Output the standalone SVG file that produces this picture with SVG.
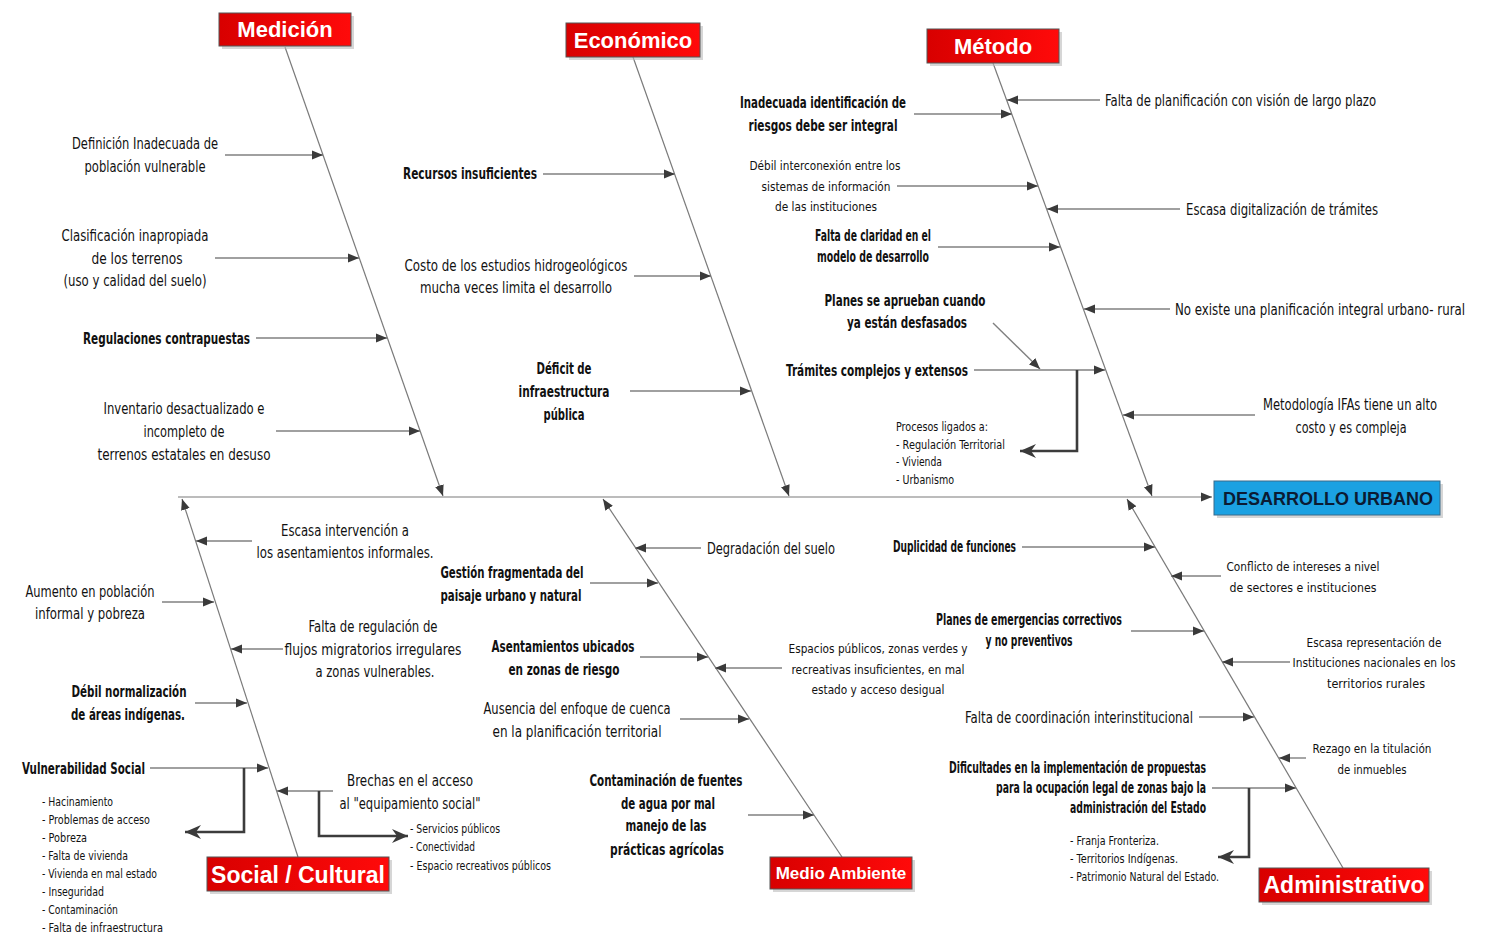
<svg xmlns="http://www.w3.org/2000/svg" width="1486" height="937" viewBox="0 0 1486 937">
<style>
.t{font-family:'DejaVu Sans Condensed','DejaVu Sans','Liberation Sans',sans-serif;font-stretch:condensed;font-size:16px;fill:#111}
.b{font-weight:bold}
.s{font-size:13px}
.m{text-anchor:middle}
.e{text-anchor:end}
.cat{font-family:'Liberation Sans',Arial,sans-serif;font-weight:bold;fill:#fff;text-anchor:middle}
.box{fill:url(#red);stroke:#555;stroke-width:1}
.sh{fill:#bbb;opacity:0.6}
.bone{stroke:#7a7a7a;stroke-width:1.2;fill:none}
.br{stroke:#808080;stroke-width:1.4;fill:none}
.el{stroke:#3c3c3c;stroke-width:2.6;fill:none}
</style>
<defs>
<linearGradient id="red" x1="0" y1="0" x2="1" y2="0"><stop offset="0" stop-color="#d80000"/><stop offset="1" stop-color="#ff0a0a"/></linearGradient>
<marker id="a" markerUnits="userSpaceOnUse" markerWidth="12" markerHeight="10" refX="11" refY="5" orient="auto"><path d="M0,0.5 L11,5 L0,9.5 z" fill="#3a3a3a"/></marker>
<marker id="A" markerUnits="userSpaceOnUse" markerWidth="18" markerHeight="14" refX="16" refY="7" orient="auto"><path d="M0,0 L16,7 L0,14 L5,7 z" fill="#3a3a3a"/></marker>
</defs>
<rect width="1486" height="937" fill="#fff"/>

<g id="connectors">
<line class="bone" x1="178" y1="497" x2="1212" y2="497" marker-end="url(#a)"/>
<line class="bone" x1="285" y1="47" x2="443" y2="496" marker-end="url(#a)"/>
<line class="bone" x1="633" y1="57" x2="789" y2="496" marker-end="url(#a)"/>
<line class="bone" x1="993" y1="63" x2="1152" y2="496" marker-end="url(#a)"/>
<line class="bone" x1="298" y1="857" x2="182" y2="499" marker-end="url(#a)"/>
<line class="bone" x1="842" y1="857" x2="603" y2="499" marker-end="url(#a)"/>
<line class="bone" x1="1343" y1="868" x2="1127" y2="499" marker-end="url(#a)"/>
<line class="br" x1="225" y1="155" x2="323" y2="155" marker-end="url(#a)"/>
<line class="br" x1="215" y1="258" x2="359" y2="258" marker-end="url(#a)"/>
<line class="br" x1="256" y1="338" x2="387" y2="338" marker-end="url(#a)"/>
<line class="br" x1="276" y1="431" x2="420" y2="431" marker-end="url(#a)"/>
<line class="br" x1="543" y1="174" x2="675" y2="174" marker-end="url(#a)"/>
<line class="br" x1="634" y1="276" x2="711" y2="276" marker-end="url(#a)"/>
<line class="br" x1="630" y1="391" x2="751" y2="391" marker-end="url(#a)"/>
<line class="br" x1="1100" y1="100" x2="1007" y2="100" marker-end="url(#a)"/>
<line class="br" x1="914" y1="114" x2="1012" y2="114" marker-end="url(#a)"/>
<line class="br" x1="897" y1="186" x2="1038" y2="186" marker-end="url(#a)"/>
<line class="br" x1="1180" y1="209" x2="1047" y2="209" marker-end="url(#a)"/>
<line class="br" x1="938" y1="247" x2="1060" y2="247" marker-end="url(#a)"/>
<line class="br" x1="1170" y1="309" x2="1084" y2="309" marker-end="url(#a)"/>
<line class="br" x1="993" y1="323" x2="1040" y2="369" marker-end="url(#a)"/>
<line class="br" x1="974" y1="370" x2="1105" y2="370" marker-end="url(#a)"/>
<line class="br" x1="1255" y1="415" x2="1123" y2="415" marker-end="url(#a)"/>
<path class="el" d="M1077,370 V451 H1020" marker-end="url(#A)"/>
<line class="br" x1="252" y1="541" x2="196" y2="541" marker-end="url(#a)"/>
<line class="br" x1="162" y1="602" x2="214" y2="602" marker-end="url(#a)"/>
<line class="br" x1="283" y1="649" x2="231" y2="649" marker-end="url(#a)"/>
<line class="br" x1="195" y1="703" x2="247" y2="703" marker-end="url(#a)"/>
<line class="br" x1="150" y1="768" x2="268" y2="768" marker-end="url(#a)"/>
<line class="br" x1="333" y1="791" x2="277" y2="791" marker-end="url(#a)"/>
<path class="el" d="M244,768 V832 H185" marker-end="url(#A)"/>
<path class="el" d="M319,791 V836 H408" marker-end="url(#A)"/>
<line class="br" x1="701" y1="548" x2="635" y2="548" marker-end="url(#a)"/>
<line class="br" x1="590" y1="583" x2="658" y2="583" marker-end="url(#a)"/>
<line class="br" x1="640" y1="657" x2="708" y2="657" marker-end="url(#a)"/>
<line class="br" x1="782" y1="668" x2="715" y2="668" marker-end="url(#a)"/>
<line class="br" x1="680" y1="719" x2="749" y2="719" marker-end="url(#a)"/>
<line class="br" x1="748" y1="815" x2="814" y2="815" marker-end="url(#a)"/>
<line class="br" x1="1022" y1="547" x2="1155" y2="547" marker-end="url(#a)"/>
<line class="br" x1="1221" y1="576" x2="1171" y2="576" marker-end="url(#a)"/>
<line class="br" x1="1131" y1="631" x2="1204" y2="631" marker-end="url(#a)"/>
<line class="br" x1="1290" y1="662" x2="1222" y2="662" marker-end="url(#a)"/>
<line class="br" x1="1199" y1="717" x2="1254" y2="717" marker-end="url(#a)"/>
<line class="br" x1="1306" y1="758" x2="1279" y2="758" marker-end="url(#a)"/>
<line class="br" x1="1212" y1="788" x2="1296" y2="788" marker-end="url(#a)"/>
<path class="el" d="M1249,788 V857 H1218" marker-end="url(#A)"/>
</g>

<g id="medicion"><rect class="sh" x="222" y="16" width="132" height="33"/><rect class="box" x="219" y="13" width="132" height="33"/><text class="cat" x="285" y="37" font-size="22">Medición</text></g>
<g id="economico"><rect class="sh" x="569" y="26" width="134" height="34"/><rect class="box" x="566" y="23" width="134" height="34"/><text class="cat" x="633" y="48" font-size="22">Económico</text></g>
<g id="metodo"><rect class="sh" x="930" y="32" width="132" height="34"/><rect class="box" x="927" y="29" width="132" height="34"/><text class="cat" x="993" y="54" font-size="22">Método</text></g>
<g id="social"><rect class="sh" x="210" y="860" width="182" height="34"/><rect class="box" x="207" y="857" width="182" height="34"/><text class="cat" x="298" y="883" font-size="23">Social / Cultural</text></g>
<g id="medioambiente"><rect class="sh" x="773" y="860" width="142" height="32"/><rect class="box" x="770" y="857" width="142" height="32"/><text class="cat" x="841" y="879" font-size="17">Medio Ambiente</text></g>
<g id="administrativo"><rect class="sh" x="1262" y="871" width="170" height="34"/><rect class="box" x="1259" y="868" width="170" height="34"/><text class="cat" x="1344" y="893" font-size="23">Administrativo</text></g>
<g id="desarrollo"><rect x="1217" y="484" width="226" height="34" fill="#bbb" opacity="0.6"/><rect x="1214" y="481" width="226" height="34" fill="#1ba1e2" stroke="#3a6a8a" stroke-width="1"/><text x="1328" y="505" font-family="'Liberation Sans',Arial,sans-serif" font-weight="bold" font-size="18" fill="#0b1b33" text-anchor="middle">DESARROLLO URBANO</text></g>

<g id="med-1"><text class="t m" x="145" y="149" textLength="146" lengthAdjust="spacingAndGlyphs">Definición Inadecuada de</text><text class="t m" x="145" y="172" textLength="121" lengthAdjust="spacingAndGlyphs">población vulnerable</text></g>
<g id="med-2"><text class="t m" x="135" y="241" textLength="147" lengthAdjust="spacingAndGlyphs">Clasificación inapropiada</text><text class="t m" x="137" y="264" textLength="91" lengthAdjust="spacingAndGlyphs">de los terrenos</text><text class="t m" x="135" y="286" textLength="143" lengthAdjust="spacingAndGlyphs">(uso y calidad del suelo)</text></g>
<g id="med-3"><text class="t b e" x="250" y="344" textLength="167" lengthAdjust="spacingAndGlyphs">Regulaciones contrapuestas</text></g>
<g id="med-4"><text class="t m" x="184" y="414" textLength="161" lengthAdjust="spacingAndGlyphs">Inventario desactualizado e</text><text class="t m" x="184" y="437" textLength="81" lengthAdjust="spacingAndGlyphs">incompleto de</text><text class="t m" x="184" y="460" textLength="173" lengthAdjust="spacingAndGlyphs">terrenos estatales en desuso</text></g>

<g id="eco-1"><text class="t b e" x="537" y="179" textLength="134" lengthAdjust="spacingAndGlyphs">Recursos insuficientes</text></g>
<g id="eco-2"><text class="t m" x="516" y="271" textLength="223" lengthAdjust="spacingAndGlyphs">Costo de los estudios hidrogeológicos</text><text class="t m" x="516" y="293" textLength="192" lengthAdjust="spacingAndGlyphs">mucha veces limita el desarrollo</text></g>
<g id="eco-3"><text class="t b m" x="564" y="374" textLength="55" lengthAdjust="spacingAndGlyphs">Déficit de</text><text class="t b m" x="564" y="397" textLength="91" lengthAdjust="spacingAndGlyphs">infraestructura</text><text class="t b m" x="564" y="420" textLength="41" lengthAdjust="spacingAndGlyphs">pública</text></g>

<g id="met-1"><text class="t" x="1105" y="106" textLength="271" lengthAdjust="spacingAndGlyphs">Falta de planificación con visión de largo plazo</text></g>
<g id="met-2"><text class="t b m" x="823" y="108" textLength="166" lengthAdjust="spacingAndGlyphs">Inadecuada identificación de</text><text class="t b m" x="823" y="131" textLength="149" lengthAdjust="spacingAndGlyphs">riesgos debe ser integral</text></g>
<g id="met-3"><text class="t s m" x="825" y="170" textLength="151" lengthAdjust="spacingAndGlyphs">Débil interconexión entre los</text><text class="t s m" x="826" y="191" textLength="129" lengthAdjust="spacingAndGlyphs">sistemas de información</text><text class="t s m" x="826" y="211" textLength="102" lengthAdjust="spacingAndGlyphs">de las instituciones</text></g>
<g id="met-4"><text class="t" x="1186" y="215" textLength="192" lengthAdjust="spacingAndGlyphs">Escasa digitalización de trámites</text></g>
<g id="met-5"><text class="t b m" x="873" y="241" font-size="14" textLength="116" lengthAdjust="spacingAndGlyphs">Falta de claridad en el</text><text class="t b m" x="873" y="262" font-size="14" textLength="112" lengthAdjust="spacingAndGlyphs">modelo de desarrollo</text></g>
<g id="met-6"><text class="t" x="1175" y="315" textLength="290" lengthAdjust="spacingAndGlyphs">No existe una planificación integral urbano- rural</text></g>
<g id="met-7"><text class="t b m" x="905" y="306" textLength="161" lengthAdjust="spacingAndGlyphs">Planes se aprueban cuando</text><text class="t b m" x="907" y="328" textLength="120" lengthAdjust="spacingAndGlyphs">ya están desfasados</text></g>
<g id="met-8"><text class="t b e" x="968" y="376" textLength="182" lengthAdjust="spacingAndGlyphs">Trámites complejos y extensos</text></g>
<g id="met-9"><text class="t s" x="896" y="431" font-size="12" textLength="92" lengthAdjust="spacingAndGlyphs">Procesos ligados a:</text><text class="t s" x="896" y="449" font-size="12" textLength="109" lengthAdjust="spacingAndGlyphs">- Regulación Territorial</text><text class="t s" x="896" y="466" font-size="12" textLength="46" lengthAdjust="spacingAndGlyphs">- Vivienda</text><text class="t s" x="896" y="484" font-size="12" textLength="58" lengthAdjust="spacingAndGlyphs">- Urbanismo</text></g>
<g id="met-10"><text class="t m" x="1350" y="410" textLength="174" lengthAdjust="spacingAndGlyphs">Metodología IFAs tiene un alto</text><text class="t m" x="1351" y="433" textLength="111" lengthAdjust="spacingAndGlyphs">costo y es compleja</text></g>

<g id="soc-1"><text class="t m" x="345" y="536" textLength="128" lengthAdjust="spacingAndGlyphs">Escasa intervención a</text><text class="t m" x="345" y="558" textLength="177" lengthAdjust="spacingAndGlyphs">los asentamientos informales.</text></g>
<g id="soc-2"><text class="t m" x="90" y="597" textLength="129" lengthAdjust="spacingAndGlyphs">Aumento en población</text><text class="t m" x="90" y="619" textLength="110" lengthAdjust="spacingAndGlyphs">informal y pobreza</text></g>
<g id="soc-3"><text class="t m" x="373" y="632" textLength="129" lengthAdjust="spacingAndGlyphs">Falta de regulación de</text><text class="t m" x="373" y="655" textLength="177" lengthAdjust="spacingAndGlyphs">flujos migratorios irregulares</text><text class="t m" x="375" y="677" textLength="119" lengthAdjust="spacingAndGlyphs">a zonas vulnerables.</text></g>
<g id="soc-4"><text class="t b m" x="129" y="697" textLength="115" lengthAdjust="spacingAndGlyphs">Débil normalización</text><text class="t b m" x="128" y="720" textLength="114" lengthAdjust="spacingAndGlyphs">de áreas indígenas.</text></g>
<g id="soc-5"><text class="t b" x="22" y="774" textLength="123" lengthAdjust="spacingAndGlyphs">Vulnerabilidad Social</text></g>
<g id="soc-6"><text class="t s" x="42" y="806" font-size="12" textLength="71" lengthAdjust="spacingAndGlyphs">- Hacinamiento</text><text class="t s" x="42" y="824" font-size="12" textLength="108" lengthAdjust="spacingAndGlyphs">- Problemas de acceso</text><text class="t s" x="42" y="842" font-size="12" textLength="45" lengthAdjust="spacingAndGlyphs">- Pobreza</text><text class="t s" x="42" y="860" font-size="12" textLength="86" lengthAdjust="spacingAndGlyphs">- Falta de vivienda</text><text class="t s" x="42" y="878" font-size="12" textLength="115" lengthAdjust="spacingAndGlyphs">- Vivienda en mal estado</text><text class="t s" x="42" y="896" font-size="12" textLength="62" lengthAdjust="spacingAndGlyphs">- Inseguridad</text><text class="t s" x="42" y="914" font-size="12" textLength="76" lengthAdjust="spacingAndGlyphs">- Contaminación</text><text class="t s" x="42" y="932" font-size="12" textLength="121" lengthAdjust="spacingAndGlyphs">- Falta de infraestructura</text></g>
<g id="soc-7"><text class="t m" x="410" y="786" textLength="126" lengthAdjust="spacingAndGlyphs">Brechas en el acceso</text><text class="t m" x="410" y="809" textLength="141" lengthAdjust="spacingAndGlyphs">al "equipamiento social"</text></g>
<g id="soc-8"><text class="t s" x="410" y="833" font-size="12" textLength="90" lengthAdjust="spacingAndGlyphs">- Servicios públicos</text><text class="t s" x="410" y="851" font-size="12" textLength="65" lengthAdjust="spacingAndGlyphs">- Conectividad</text><text class="t s" x="410" y="870" font-size="12" textLength="141" lengthAdjust="spacingAndGlyphs">- Espacio recreativos públicos</text></g>

<g id="amb-1"><text class="t" x="707" y="554" textLength="128" lengthAdjust="spacingAndGlyphs">Degradación del suelo</text></g>
<g id="amb-2"><text class="t b m" x="512" y="578" textLength="143" lengthAdjust="spacingAndGlyphs">Gestión fragmentada del</text><text class="t b m" x="511" y="601" textLength="141" lengthAdjust="spacingAndGlyphs">paisaje urbano y natural</text></g>
<g id="amb-3"><text class="t b m" x="563" y="652" textLength="143" lengthAdjust="spacingAndGlyphs">Asentamientos ubicados</text><text class="t b m" x="564" y="675" textLength="111" lengthAdjust="spacingAndGlyphs">en zonas de riesgo</text></g>
<g id="amb-4"><text class="t s m" x="878" y="653" textLength="179" lengthAdjust="spacingAndGlyphs">Espacios públicos, zonas verdes y</text><text class="t s m" x="878" y="674" textLength="173" lengthAdjust="spacingAndGlyphs">recreativas insuficientes, en mal</text><text class="t s m" x="878" y="694" textLength="133" lengthAdjust="spacingAndGlyphs">estado y acceso desigual</text></g>
<g id="amb-5"><text class="t m" x="577" y="714" textLength="187" lengthAdjust="spacingAndGlyphs">Ausencia del enfoque de cuenca</text><text class="t m" x="577" y="737" textLength="169" lengthAdjust="spacingAndGlyphs">en la planificación territorial</text></g>
<g id="amb-6"><text class="t b m" x="666" y="786" textLength="153" lengthAdjust="spacingAndGlyphs">Contaminación de fuentes</text><text class="t b m" x="668" y="809" textLength="94" lengthAdjust="spacingAndGlyphs">de agua por mal</text><text class="t b m" x="666" y="831" textLength="81" lengthAdjust="spacingAndGlyphs">manejo de las</text><text class="t b m" x="667" y="855" textLength="114" lengthAdjust="spacingAndGlyphs">prácticas agrícolas</text></g>

<g id="adm-1"><text class="t b e" x="1016" y="552" font-size="14" textLength="123" lengthAdjust="spacingAndGlyphs">Duplicidad de funciones</text></g>
<g id="adm-2"><text class="t s m" x="1303" y="571" textLength="153" lengthAdjust="spacingAndGlyphs">Conflicto de intereses a nivel</text><text class="t s m" x="1303" y="592" textLength="147" lengthAdjust="spacingAndGlyphs">de sectores  e instituciones</text></g>
<g id="adm-3"><text class="t b m" x="1029" y="625" font-size="14" textLength="186" lengthAdjust="spacingAndGlyphs">Planes de emergencias correctivos</text><text class="t b m" x="1029" y="646" font-size="14" textLength="87" lengthAdjust="spacingAndGlyphs">y no preventivos</text></g>
<g id="adm-4"><text class="t s m" x="1374" y="647" textLength="135" lengthAdjust="spacingAndGlyphs">Escasa representación de</text><text class="t s m" x="1374" y="667" textLength="163" lengthAdjust="spacingAndGlyphs">Instituciones nacionales en los</text><text class="t s m" x="1376" y="688" textLength="98" lengthAdjust="spacingAndGlyphs">territorios rurales</text></g>
<g id="adm-5"><text class="t" x="965" y="723" textLength="228" lengthAdjust="spacingAndGlyphs">Falta de coordinación interinstitucional</text></g>
<g id="adm-6"><text class="t s m" x="1372" y="753" textLength="119" lengthAdjust="spacingAndGlyphs">Rezago en la titulación</text><text class="t s m" x="1372" y="774" textLength="69" lengthAdjust="spacingAndGlyphs">de inmuebles</text></g>
<g id="adm-7"><text class="t b e" x="1206" y="773" font-size="14" textLength="257" lengthAdjust="spacingAndGlyphs">Dificultades en la implementación de propuestas</text><text class="t b e" x="1206" y="793" font-size="14" textLength="210" lengthAdjust="spacingAndGlyphs">para la ocupación legal de zonas bajo la</text><text class="t b e" x="1206" y="813" font-size="14" textLength="136" lengthAdjust="spacingAndGlyphs">administración del Estado</text></g>
<g id="adm-8"><text class="t s" x="1070" y="845" font-size="12" textLength="89" lengthAdjust="spacingAndGlyphs">- Franja Fronteriza.</text><text class="t s" x="1070" y="863" font-size="12" textLength="108" lengthAdjust="spacingAndGlyphs">- Territorios Indígenas.</text><text class="t s" x="1070" y="881" font-size="12" textLength="149" lengthAdjust="spacingAndGlyphs">- Patrimonio Natural del Estado.</text></g>
</svg>
